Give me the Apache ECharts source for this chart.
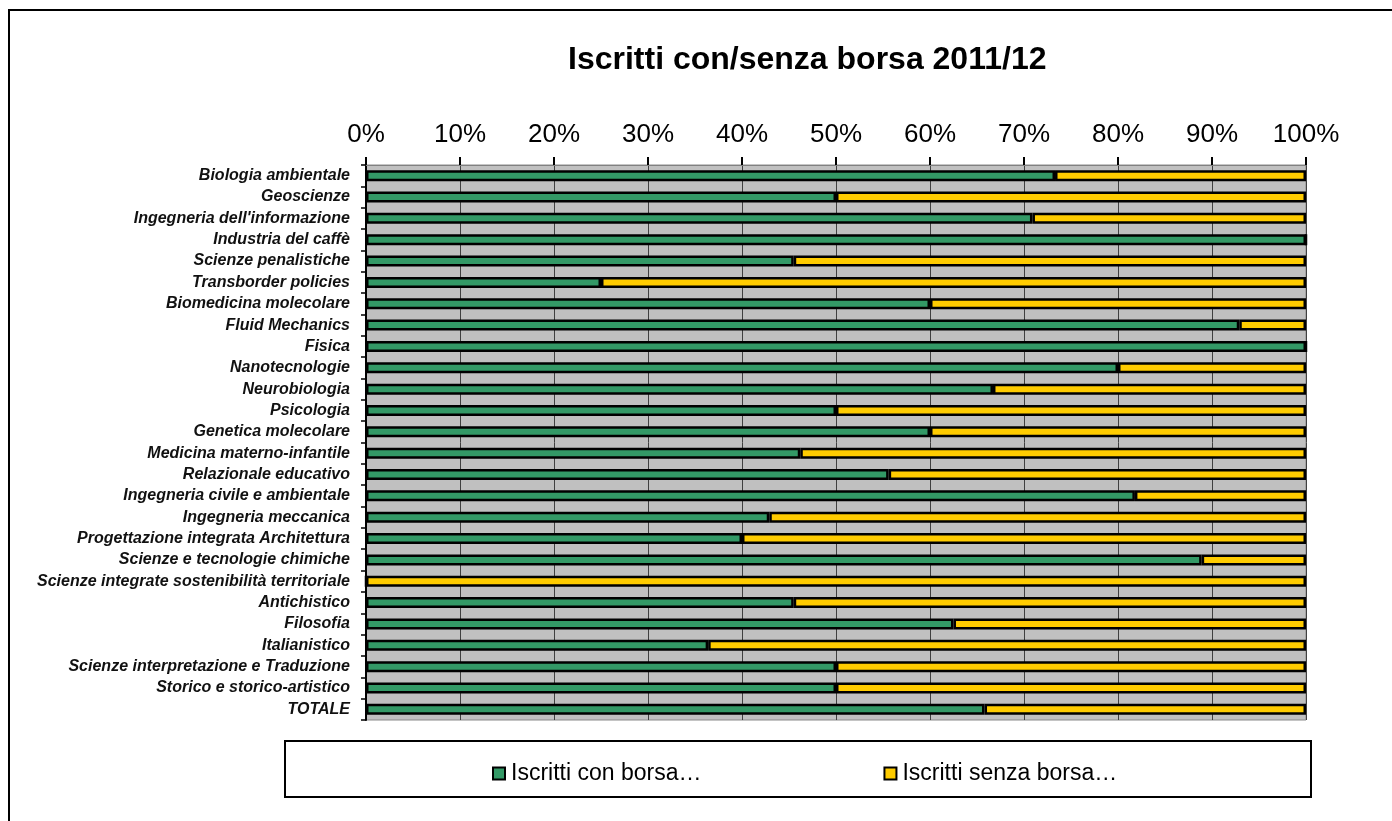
<!DOCTYPE html>
<html>
<head>
<meta charset="utf-8">
<script src="https://cdn.jsdelivr.net/npm/echarts@6/dist/echarts.min.js"></script>
<style>
html,body{margin:0;padding:0;background:#fff;}
#chart{width:1392px;height:821px;}
</style>
</head>
<body>
<div id="chart"></div>
<script>
const categories = [
  "Biologia ambientale",
  "Geoscienze",
  "Ingegneria dell'informazione",
  "Industria del caffè",
  "Scienze penalistiche",
  "Transborder policies",
  "Biomedicina molecolare",
  "Fluid Mechanics",
  "Fisica",
  "Nanotecnologie",
  "Neurobiologia",
  "Psicologia",
  "Genetica molecolare",
  "Medicina materno-infantile",
  "Relazionale educativo",
  "Ingegneria civile e ambientale",
  "Ingegneria meccanica",
  "Progettazione integrata Architettura",
  "Scienze e tecnologie chimiche",
  "Scienze integrate sostenibilità territoriale",
  "Antichistico",
  "Filosofia",
  "Italianistico",
  "Scienze interpretazione e Traduzione",
  "Storico e storico-artistico",
  "TOTALE"
];
const conBorsa = [73.3, 50, 70.9, 100, 45.5, 25, 60, 92.9, 100, 80, 66.7, 50, 60, 46.2, 55.6, 81.8, 42.9, 40, 88.9, 0, 45.5, 62.5, 36.4, 50, 50, 65.8];
const senzaBorsa = [26.7, 50, 29.1, 0, 54.5, 75, 40, 7.1, 0, 20, 33.3, 50, 40, 53.8, 44.4, 18.2, 57.1, 60, 11.1, 100, 54.5, 37.5, 63.6, 50, 50, 34.2];
const seriesNames = ["Iscritti con borsa…", "Iscritti senza borsa…"];
const titleText = "Iscritti con/senza borsa 2011/12";

const FONT = "'Liberation Sans', Arial, sans-serif";
const chart = echarts.init(document.getElementById('chart'), null, {renderer: 'canvas'});
chart.setOption({
  animation: false,
  backgroundColor: '#ffffff',
  title: {
    text: titleText,
    left: 563,
    top: 39,
    textStyle: {fontFamily: FONT, fontSize: 32, fontWeight: 'bold', color: '#000'}
  },
  grid: {
    left: 366, top: 165, width: 940, height: 555,
    show: true, backgroundColor: '#c0c0c0', borderColor: '#8a8a8a', borderWidth: 1,
    containLabel: false
  },
  legend: {
    left: 487, top: 757,
    itemWidth: 12, itemHeight: 12, itemGap: 182,
    icon: 'rect',
    textStyle: {fontFamily: FONT, fontSize: 23, color: '#000', padding: [0,0,0,1]},
    data: seriesNames
  },
  xAxis: {
    type: 'value', position: 'top', min: 0, max: 100, interval: 10,
    axisLine: {show: true, lineStyle: {color: '#808080', width: 1}},
    axisTick: {show: true, inside: false, length: 8, lineStyle: {color: '#000', width: 2}},
    axisLabel: {formatter: '{value}%', fontFamily: FONT, fontSize: 26, color: '#000', margin: 17},
    splitLine: {show: true, lineStyle: {color: '#404040', width: 1}}
  },
  yAxis: {
    type: 'category', inverse: true, data: categories,
    axisLine: {show: true, lineStyle: {color: '#000', width: 2}},
    axisTick: {show: true, length: 5, lineStyle: {color: '#000', width: 1.5}},
    axisLabel: {fontFamily: FONT, fontStyle: 'italic', fontWeight: 'bold', fontSize: 16, color: '#111', margin: 16, interval: 0}
  },
  series: [
    {
      name: seriesNames[0], type: 'bar', stack: 'tot', data: conBorsa, barWidth: 11,
      itemStyle: {color: '#339966', borderColor: '#000', borderWidth: 2.5}
    },
    {
      name: seriesNames[1], type: 'bar', stack: 'tot', data: senzaBorsa, barWidth: 11,
      itemStyle: {color: '#ffcc00', borderColor: '#000', borderWidth: 2.5}
    }
  ],
  graphic: [
    {type: 'polyline', shape: {points: [[9, 821], [9, 10], [1392, 10]]}, style: {stroke: '#000', lineWidth: 2, fill: null}},
    {type: 'rect', shape: {x: 285, y: 741, width: 1026, height: 56}, style: {stroke: '#000', lineWidth: 2, fill: null}}
  ]
});
</script>
</body>
</html>
